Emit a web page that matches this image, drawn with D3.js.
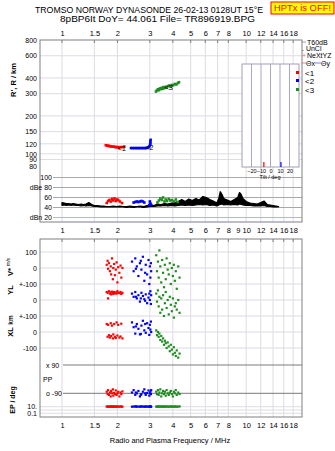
<!DOCTYPE html>
<html>
<head>
<style>
body { margin: 0; background: #fff; }
text { font-family: "Liberation Sans", Arial, sans-serif; }
</style>
</head>
<body>
<script src="https://d3js.org/d3.v7.min.js"></script>
<script>
// frequency ticks (MHz)
var topTicks = [1, 1.5, 2, 3, 4, 5, 6, 7, 8, 10, 12, 14, 16, 18];
var midTicks = [1, 1.5, 2, 3, 4, 5, 6, 7, 8, 9, 10, 12, 14, 16, 18];
var rTicks = [80, 90, 100, 120, 150, 200, 300, 400, 600, 800];
var ampTicks = [100, 80, 60, 40, 20];
var tiltTicks = [-20, -10, 0, 10, 20];

// virtual height traces
var redF = [1.73,1.76,1.78,1.80,1.83,1.86,1.89,1.92,1.95,1.98,2.01,2.04,2.08,2.13,2.18];
var redR = [117,116,116,115,115,114,114,114,113,113,113,112,113,113,114];
var blueF = [2.37,2.42,2.47,2.52,2.57,2.62,2.67,2.72,2.77,2.82,2.87,2.92,2.96,2.99,3.01,3.02,3.02,3.03];
var blueR = [111,111,111,111,111,111,111,111,111,111,111,112,113,115,118,121,125,129];
var greenF = [3.24,3.28,3.32,3.36,3.40,3.44,3.48,3.52,3.56,3.60,3.65,3.70,3.76,3.82,3.88,3.95,4.02,4.10,4.18,4.26,4.32];
var greenR = [312,318,325,320,330,326,334,328,338,332,340,336,344,348,342,352,350,358,355,364,370];

// noise amplitude band
var noiseF = [1.00,1.03,1.06,1.09,1.12,1.15,1.19,1.23,1.27,1.31,1.35,1.40,1.45,1.50,1.56,1.62,1.68,1.75,1.82,1.90,1.98,2.06,2.15,2.24,2.34,2.44,2.55,2.66,2.78,2.90,3.03,3.16,3.30,3.45,3.60,3.76,3.93,4.10,4.28,4.47,4.67,4.88,5.10,5.33,5.57,5.82,6.08,6.35,6.63,6.93,7.10,7.24,7.40,7.56,7.90,8.25,8.62,9.00,9.20,9.40,9.60,10.0,10.5,11.0,11.5,12.0,12.5,13.0,13.5,14.0,14.5,15.0];
var noiseLo = [44,45,44,45,44,45,44,44,43,44,43,44,43,42,42,41,41,41,41,41,41,41,41,40,41,40,41,41,40,41,42,42,43,43,44,43,44,43,44,45,44,45,44,45,46,45,46,44,45,43,45,46,47,45,46,45,46,45,47,46,45,44,44,43,43,43,44,42,42,41,41,41];
var noiseHi = [50,49,48,48,47,48,47,46,47,46,47,50,46,44,44,43,43,42,42,43,42,43,42,42,43,42,42,43,42,44,46,44,47,46,48,47,49,50,52,56,52,57,54,58,55,62,60,56,53,49,58,72,66,58,55,52,56,60,70,66,58,52,49,48,47,50,53,46,45,44,43,42];

// echo amplitudes
var redAF = [1.75,1.78,1.81,1.84,1.87,1.90,1.93,1.96,1.99,2.02,2.06,2.12];
var redA = [49,53,55,52,57,54,58,53,56,55,52,49];
var blueAF = [2.45,2.50,2.55,2.60,2.65,2.70,2.75,2.80,2.98,3.00,3.02,3.04];
var blueA = [50,51,52,51,52,53,52,50,45,52,48,46];
var greenAF = [3.30,3.36,3.42,3.48,3.54,3.60,3.66,3.72,3.80,3.88,3.96,4.05,4.15,4.25];
var greenA = [50,54,58,55,60,52,56,53,57,54,55,52,56,51];

// velocity and position, one value per echo
var redVF = [1.75,1.77,1.78,1.80,1.82,1.84,1.85,1.87,1.89,1.90,1.92,1.94,1.96,1.98,2.00,2.02,2.05,2.08,2.10,2.13];
var redV = [20,45,-5,30,-20,10,-40,60,-70,0,25,-45,-10,35,-90,5,-30,15,-60,0];
var redYL = [50,45,10,55,40,48,35,52,44,38,50,42,47,40,55,46,43,50,38,45];
var redXL = [50,-30,45,-20,-35,55,-25,40,-40,-15,50,-30,-38,60,-22,45,-35,-28,52,-40];
var redPP = [-80,-95,-70,-100,-85,-110,-75,-90,-65,-105,-88,-95,-72,-100,-90,-80,-110,-85,-95,-78];
var redEP = [11,10,12,10,11,10,12,11,10,11,12,10,11,10,12,11,10,11,12,10];

var blueVF = [2.40,2.45,2.50,2.55,2.60,2.65,2.70,2.75,2.80,2.85,2.90,2.95,2.98,3.00,3.02,3.04,3.05,2.52,2.68,2.83];
var blueV = [40,-20,60,10,-50,30,-10,70,-80,20,-40,50,-100,10,-60,30,-20,-5,45,-30];
var blueYL = [40,20,50,10,30,-10,45,25,5,35,-20,15,40,0,55,-25,30,20,10,-5];
var blueXL = [60,30,-10,50,20,-15,40,70,10,-5,55,25,-18,45,15,65,0,35,-12,50];
var bluePP = [-85,-70,-100,-90,-75,-110,-95,-80,-65,-100,-88,-72,-105,-90,-80,-95,-70,-85,-100,-90];
var blueEP = [10,11,12,10,11,10,12,11,10,12,11,10,11,12,10,11,10,12,11,10];

var greenVF = [3.25,3.28,3.32,3.35,3.38,3.42,3.46,3.50,3.54,3.58,3.62,3.66,3.70,3.75,3.80,3.85,3.90,3.95,4.00,4.05,4.10,4.15,4.20,4.28,4.35];
var greenV = [80,-20,40,-60,110,10,-90,50,-30,-120,20,-70,60,-10,-40,30,-100,0,-50,20,-80,-20,-130,10,-60];
var greenYL = [40,-10,60,-40,20,-80,10,-60,30,-100,-20,50,-50,0,-90,20,-30,-70,10,-110,-40,-20,-60,0,-80];
var greenXL = [10,-20,0,-30,-10,-50,-25,-60,-40,-80,-55,-70,-100,-65,-90,-120,-80,-110,-140,-95,-130,-150,-115,-160,-135];
var greenPP = [-80,-95,-70,-100,-85,-65,-110,-90,-75,-95,-80,-105,-70,-90,-100,-85,-75,-95,-110,-80,-90,-70,-100,-85,-95];
var greenEP = [11,10,12,11,10,12,10,11,12,10,11,10,12,11,10,11,12,10,11,10,12,11,10,11,12];

var tiltVals = [-7, 11];
var tiltColors = ["#ff0000", "#0000ff"];

var RED = "#ff0000", BLUE = "#0000ff", GREEN = "#1e8c1e";
var GRID = "#dcdce4", FRAME = "#808080";

var svg = d3.select("body").append("svg").attr("width", 335).attr("height", 451);
svg.append("rect").attr("width", 335).attr("height", 451).attr("fill", "#fff");

var x = d3.scaleLog().domain([0.76, 20.1]).range([40, 302]);
var yR = d3.scaleLog().domain([80, 800]).range([166, 40]);
var yA = d3.scaleLinear().domain([20, 100]).range([217.5, 177.5]);
var yV = d3.scaleLinear().domain([-100, 100]).range([284, 252]);
var yYL = d3.scaleLinear().domain([-100, 100]).range([316, 284]);
var yXL = d3.scaleLinear().domain([-100, 100]).range([348, 316]);
var yPP = d3.scaleLinear().domain([-90, 90]).range([393.3, 365]);
var yEP = d3.scaleLog().domain([0.1, 10]).range([413.3, 406.7]);
var tilt = d3.scaleLinear().domain([-30, 30]).range([242, 299]);

// title
svg.append("text").attr("x", 35).attr("y", 13).attr("font-size", 9)
   .attr("textLength", 228).attr("lengthAdjust", "spacingAndGlyphs")
   .text("TROMSO NORWAY   DYNASONDE 26-02-13 0128UT 15°E");
svg.append("text").attr("x", 60).attr("y", 21.5).attr("font-size", 9)
   .attr("textLength", 195).attr("lengthAdjust", "spacingAndGlyphs")
   .text("8pBP6It DoY=  44.061 File= TR896919.BPG");
svg.append("rect").attr("x", 271).attr("y", 2).attr("width", 63).attr("height", 12)
   .attr("fill", "#ffff00").attr("stroke", "#ff0000");
svg.append("text").attr("x", 302.5).attr("y", 11).attr("text-anchor", "middle")
   .attr("font-size", 9).attr("fill", "#ff0000")
   .attr("textLength", 57).attr("lengthAdjust", "spacingAndGlyphs").text("HPTx is OFF!");

// panels
var upTop = 40, upBot = 222, loTop = 239, loBot = 417;

// vertical grid lines
[[upTop, upBot, topTicks], [loTop, loBot, topTicks]].forEach(function (p) {
  svg.append("g").selectAll("line").data(p[2]).enter().append("line")
     .attr("x1", function (d) { return x(d); }).attr("x2", function (d) { return x(d); })
     .attr("y1", p[0]).attr("y2", p[1]).attr("stroke", GRID);
});

// R' grid
svg.append("g").selectAll("line").data(rTicks.filter(function (d) { return d > 80 && d < 800; }))
   .enter().append("line")
   .attr("x1", 40).attr("x2", 302)
   .attr("y1", function (d) { return yR(d); }).attr("y2", function (d) { return yR(d); })
   .attr("stroke", GRID);

// amplitude grid
svg.append("g").selectAll("line").data(ampTicks).enter().append("line")
   .attr("x1", 53).attr("x2", 302)
   .attr("y1", function (d) { return yA(d); }).attr("y2", function (d) { return yA(d); })
   .attr("stroke", function (d) { return d == 20 ? "#b4b4e6" : "#a8a8a8"; });

// lower grids
var lowerRows = [
  [yV, [100, 0, -100]], [yYL, [0, -100]], [yXL, [0, -100]]
];
lowerRows.forEach(function (r) {
  svg.append("g").selectAll("line").data(r[1]).enter().append("line")
     .attr("x1", 40).attr("x2", 302)
     .attr("y1", function (d) { return r[0](d); }).attr("y2", function (d) { return r[0](d); })
     .attr("stroke", GRID);
});
svg.append("g").selectAll("line").data([90, -90]).enter().append("line")
   .attr("x1", 63).attr("x2", 302)
   .attr("y1", function (d) { return yPP(d); }).attr("y2", function (d) { return yPP(d); })
   .attr("stroke", "#7a7a7a");
svg.append("g").selectAll("line").data([10, 1, 0.1]).enter().append("line")
   .attr("x1", 40).attr("x2", 302)
   .attr("y1", function (d) { return yEP(d); }).attr("y2", function (d) { return yEP(d); })
   .attr("stroke", GRID);

// frames
svg.append("rect").attr("x", 40).attr("y", upTop).attr("width", 262).attr("height", upBot - upTop)
   .attr("fill", "none").attr("stroke", FRAME);
svg.append("rect").attr("x", 40).attr("y", loTop).attr("width", 262).attr("height", loBot - loTop)
   .attr("fill", "none").attr("stroke", FRAME);

// frequency tick marks
[upTop, loTop].forEach(function (yy) {
  svg.append("g").selectAll("line").data(topTicks).enter().append("line")
     .attr("x1", function (d) { return x(d); }).attr("x2", function (d) { return x(d); })
     .attr("y1", yy).attr("y2", yy + 3).attr("stroke", FRAME);
});

// frequency axes labels
function freqAxis(yy, ticks) {
  var g = svg.append("g").attr("transform", "translate(0," + yy + ")")
     .call(d3.axisTop(x).tickValues(ticks).tickFormat(function (d) { return d; }).tickSize(0).tickPadding(0));
  g.select(".domain").remove();
  g.selectAll("text").attr("font-size", 7.5).attr("font-family", "Liberation Sans").attr("fill", "#000");
}
freqAxis(36, topTicks);
freqAxis(233, midTicks);
freqAxis(428, topTicks);

svg.append("text").attr("x", 170).attr("y", 443).attr("text-anchor", "middle")
   .attr("font-size", 7.5).text("Radio and Plasma Frequency / MHz");

// R' axis
var gR = svg.append("g").attr("transform", "translate(37,0)")
   .call(d3.axisLeft(yR).tickValues(rTicks).tickFormat(function (d) { return d; }).tickSize(0).tickPadding(0));
gR.select(".domain").remove();
gR.selectAll("text").attr("font-size", 7).attr("fill", "#000").attr("dy", "0.32em");
svg.append("text").attr("transform", "translate(16,80) rotate(-90)").attr("text-anchor", "middle")
   .attr("font-size", 7.5).attr("font-weight", "bold").text("R', R / km");

// amplitude axis
var gA = svg.append("g").attr("transform", "translate(53,0)")
   .call(d3.axisLeft(yA).tickValues(ampTicks).tickFormat(function (d) {
      return d == 80 ? "dBe 80" : d == 20 ? "dBn 20" : d; }).tickSize(0).tickPadding(1));
gA.select(".domain").remove();
gA.selectAll("text").attr("font-size", 7).attr("fill", "#000");

// lower axes labels
function leftLabels(scale, vals, fmt) {
  var g = svg.append("g").attr("transform", "translate(37,0)")
     .call(d3.axisLeft(scale).tickValues(vals).tickFormat(fmt).tickSize(0).tickPadding(0));
  g.select(".domain").remove();
  g.selectAll("text").attr("font-size", 7).attr("fill", "#000");
}
leftLabels(yV, [100, 0], function (d) { return d; });
leftLabels(yYL, [100, 0], function (d) { return d == 100 ? "+-100" : d; });
leftLabels(yXL, [100, 0, -100], function (d) { return d == 100 ? "+-100" : d; });
leftLabels(yEP, [10, 0.1], function (d) { return d == 10 ? "10." : "0.1"; });

svg.append("text").attr("x", 46).attr("y", yPP(90) + 3).attr("font-size", 7).text("x  90");
svg.append("text").attr("x", 46).attr("y", yPP(-90) + 3).attr("font-size", 7).text("o -90");
svg.append("text").attr("x", 43).attr("y", 382).attr("font-size", 7).text("PP");

function vlabel(xx, yy, t, fs) {
  svg.append("text").attr("transform", "translate(" + xx + "," + yy + ") rotate(-90)")
     .attr("text-anchor", "middle").attr("font-size", fs || 7.5).attr("font-weight", "bold").text(t);
}
vlabel(13, 272, "V*");
svg.append("text").attr("transform", "translate(10,262) rotate(-90)").attr("text-anchor", "middle")
   .attr("font-size", 5).text("m/s");
vlabel(13, 290, "YL");
vlabel(13, 320, "km", 6.5);
vlabel(13, 332, "XL");
vlabel(15, 400, "EP / deg", 7);

// tilt inset
svg.append("rect").attr("x", tilt(-30)).attr("y", 64).attr("width", tilt(30) - tilt(-30)).attr("height", 103)
   .attr("fill", "#fff").attr("stroke", "#a0a0b4");
svg.append("g").selectAll("line").data(tiltTicks).enter().append("line")
   .attr("x1", function (d) { return tilt(d); }).attr("x2", function (d) { return tilt(d); })
   .attr("y1", 64).attr("y2", 167).attr("stroke", "#a8a8c0");
svg.append("g").selectAll("line").data(tiltVals).enter().append("line")
   .attr("x1", function (d) { return tilt(d); }).attr("x2", function (d) { return tilt(d); })
   .attr("y1", 162).attr("y2", 167).attr("stroke-width", 1.2)
   .attr("stroke", function (d, i) { return tiltColors[i]; });
var gT = svg.append("g").attr("transform", "translate(0,173)")
   .call(d3.axisBottom(tilt).tickValues(tiltTicks).tickSize(0).tickPadding(0));
gT.select(".domain").remove();
gT.selectAll("text").attr("font-size", 5.5).attr("fill", "#000").attr("dy", 0);
svg.append("text").attr("x", 270).attr("y", 178.5).attr("text-anchor", "middle")
   .attr("font-size", 5.5).text("Tilt / deg");

// legend
var lg = svg.append("g").attr("font-size", 7);
lg.append("line").attr("x1", 301).attr("x2", 306).attr("y1", 42).attr("y2", 42).attr("stroke", "#a0a0a0");
lg.append("text").attr("x", 307).attr("y", 44.5).text("T60dB");
lg.append("text").attr("x", 302).attr("y", 50.5).text(". UnCl");
lg.append("text").attr("x", 302).attr("y", 58).attr("fill", "#e07090").text("+");
lg.append("text").attr("x", 307).attr("y", 58).text("NeXtYZ");
lg.append("line").attr("x1", 301).attr("x2", 306).attr("y1", 63).attr("y2", 63).attr("stroke", "#f08080");
lg.append("text").attr("x", 306).attr("y", 65.5).text("Θx");
lg.append("line").attr("x1", 315).attr("x2", 321).attr("y1", 63).attr("y2", 63).attr("stroke", "#8080f0");
lg.append("text").attr("x", 321).attr("y", 65.5).text("Θy");
[["<1", RED, 73], ["<2", BLUE, 81], ["<3", GREEN, 90]].forEach(function (l) {
  lg.append("rect").attr("x", 296).attr("y", l[2] - 2).attr("width", 3).attr("height", 3).attr("fill", l[1]);
  lg.append("text").attr("x", 305).attr("y", l[2] + 3).attr("font-size", 8).text(l[0]);
});

// noise band
var noiseArea = d3.area()
   .x(function (d) { return x(d); })
   .y0(function (d, i) { return yA(noiseLo[i]); })
   .y1(function (d, i) { return yA(noiseHi[i]); });
svg.append("path").attr("d", noiseArea(noiseF)).attr("fill", "#000")
   .attr("stroke", "#000").attr("stroke-width", 1.2).attr("stroke-linejoin", "bevel");

// points helper
function dots(fs, vs, scale, color, sz) {
  sz = sz || 2.2;
  svg.append("g").selectAll("rect").data(fs).enter().append("rect")
     .attr("x", function (d) { return x(d) - sz / 2; })
     .attr("y", function (d, i) { return scale(vs[i]) - sz / 2; })
     .attr("width", sz).attr("height", sz).attr("fill", color);
}

// R' traces
dots(redF, redR, yR, RED, 2.6);
dots(blueF, blueR, yR, BLUE, 2.6);
dots(greenF, greenR, yR, GREEN, 2.6);
svg.append("text").attr("x", x(2.0)).attr("y", yR(106)).attr("font-size", 7.5).text("<1");
svg.append("text").attr("x", x(2.82)).attr("y", yR(108)).attr("font-size", 7.5).text("<2");
svg.append("text").attr("x", x(3.6)).attr("y", yR(318)).attr("font-size", 7.5).text("<3");

// amplitudes
dots(redAF, redA, yA, RED, 2.6);
dots(blueAF, blueA, yA, BLUE, 2.6);
dots(greenAF, greenA, yA, GREEN, 2.6);

// lower panels
[[redVF, redV, redYL, redXL, redPP, redEP, RED],
 [blueVF, blueV, blueYL, blueXL, bluePP, blueEP, BLUE],
 [greenVF, greenV, greenYL, greenXL, greenPP, greenEP, GREEN]].forEach(function (s) {
  dots(s[0], s[1], yV, s[6]);
  dots(s[0], s[2], yYL, s[6]);
  dots(s[0], s[3], yXL, s[6]);
  dots(s[0], s[4], yPP, s[6]);
  dots(s[0], s[5], yEP, s[6]);
});
</script>
</body>
</html>
